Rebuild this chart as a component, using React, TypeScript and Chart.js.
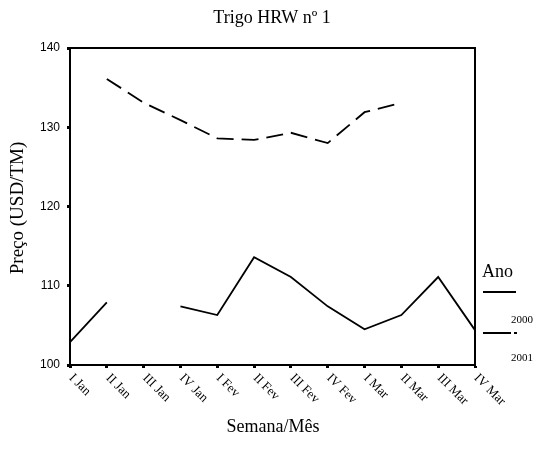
import React, { useEffect, useRef } from "react";
import { Chart, registerables } from "chart.js";

Chart.register(...registerables);

const categories = ["I Jan", "II Jan", "III Jan", "IV Jan", "I Fev", "II Fev", "III Fev", "IV Fev", "I Mar", "II Mar", "III Mar", "IV Mar"];
const series2000 = [102.9, 107.9, null, 107.4, 106.3, 113.6, 111.1, 107.4, 104.5, 106.3, 111.1, 104.4];
const series2001 = [null, 136.1, 133.1, 130.9, 128.6, 128.4, 129.3, 128.0, 131.9, 133.1, null, null];
const yMin = 100;
const yMax = 140;
const yStep = 10;
const seriesLabels = ["2000", "2001"];
const titleText = "Trigo HRW nº 1";
const xTitle = "Semana/Mês";
const yTitle = "Preço (USD/TM)";
const legendTitle = "Ano";

const SERIF = "'Liberation Serif', 'Times New Roman', serif";
const SANS = "'Liberation Sans', Arial, sans-serif";

const drawPlugin = {
  id: "customDraw",
  afterDraw(chart: any) {
    const ctx = chart.ctx;
    const a = chart.chartArea;
    ctx.save();
    // frame
    ctx.strokeStyle = "#000";
    ctx.lineWidth = 2;
    ctx.strokeRect(a.left, a.top, a.right - a.left, a.bottom - a.top);

    ctx.fillStyle = "#000";
    // title
    ctx.font = `18px ${SERIF}`;
    ctx.textAlign = "center";
    ctx.textBaseline = "middle";
    ctx.fillText(titleText, 272, 18);
    // x title
    ctx.fillText(xTitle, 273, 427);
    // y title
    ctx.save();
    ctx.translate(18, 208);
    ctx.rotate(-Math.PI / 2);
    ctx.font = `19px ${SERIF}`;
    ctx.fillText(yTitle, 0, 0);
    ctx.restore();

    // x tick labels rotated
    const xs = chart.scales.x;
    ctx.font = `13px ${SERIF}`;
    ctx.textAlign = "left";
    ctx.textBaseline = "middle";
    categories.forEach((c, i) => {
      const x = xs.getPixelForTick(i);
      ctx.save();
      ctx.translate(x + 1, a.bottom + 11);
      ctx.rotate(Math.PI / 4);
      ctx.fillText(c, 0, 0);
      ctx.restore();
    });

    // legend
    ctx.font = `18px ${SERIF}`;
    ctx.textAlign = "left";
    ctx.textBaseline = "alphabetic";
    ctx.fillText(legendTitle, 482, 277);
    ctx.lineWidth = 1.8;
    ctx.beginPath();
    ctx.moveTo(483, 292);
    ctx.lineTo(516, 292);
    ctx.stroke();
    ctx.setLineDash([28, 3]);
    ctx.beginPath();
    ctx.moveTo(483, 333);
    ctx.lineTo(517, 333);
    ctx.stroke();
    ctx.setLineDash([]);
    ctx.font = `11px ${SERIF}`;
    ctx.textBaseline = "middle";
    ctx.fillText(seriesLabels[0], 511, 320);
    ctx.fillText(seriesLabels[1], 511, 358);
    ctx.restore();
  },
};

export default function App() {
  const ref = useRef<HTMLCanvasElement | null>(null);
  useEffect(() => {
    document.body.style.margin = "0";
    const canvas = ref.current;
    if (!canvas) return;
    const chart = new Chart(canvas, {
      type: "line",
      data: {
        labels: categories,
        datasets: [
          {
            label: seriesLabels[0],
            data: series2000,
            borderColor: "#000",
            borderWidth: 1.8,
            pointRadius: 0,
            spanGaps: false,
            tension: 0,
          },
          {
            label: seriesLabels[1],
            data: series2001,
            borderColor: "#000",
            borderWidth: 1.8,
            borderDash: [17, 8],
            pointRadius: 0,
            spanGaps: false,
            tension: 0,
          },
        ],
      },
      options: {
        responsive: false,
        animation: false,
        layout: { padding: { top: 48, right: 68, left: 0, bottom: 0 } },
        plugins: {
          legend: { display: false },
          title: { display: false },
          tooltip: { enabled: false },
        },
        scales: {
          x: {
            type: "category",
            offset: false,
            afterFit: (s: any) => {
              s.height = 94;
            },
            grid: {
              drawOnChartArea: false,
              drawTicks: true,
              tickLength: 3,
              tickWidth: 3,
              tickColor: "#000",
            },
            border: { display: true, color: "#000", width: 2 },
            ticks: { display: false, autoSkip: false },
          },
          y: {
            min: yMin,
            max: yMax,
            afterFit: (s: any) => {
              s.width = 70;
            },
            grid: {
              drawOnChartArea: false,
              drawTicks: true,
              tickLength: 3,
              tickWidth: 3,
              tickColor: "#000",
            },
            border: { display: true, color: "#000", width: 2 },
            ticks: {
              stepSize: yStep,
              padding: 7,
              color: "#000",
              font: { family: SANS, size: 12 },
            },
          },
        },
      },
      plugins: [drawPlugin],
    });
    return () => chart.destroy();
  }, []);
  return <canvas ref={ref} width={543} height={459} style={{ display: "block" }} />;
}
